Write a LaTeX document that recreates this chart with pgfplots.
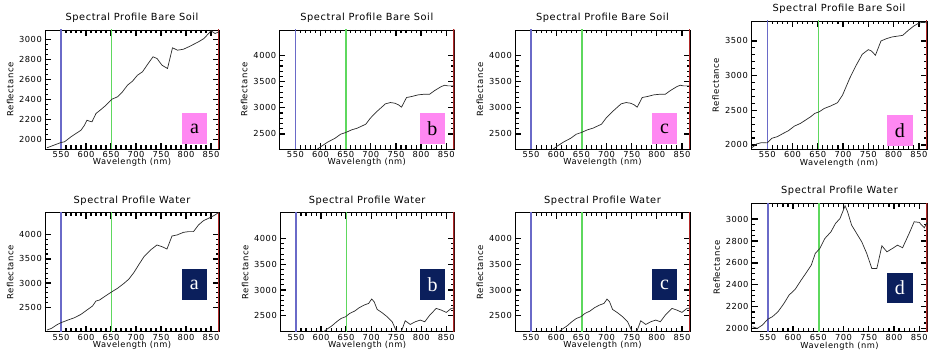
\documentclass[border=0pt]{standalone}
\usepackage{pgfplots}
\pgfplotsset{compat=1.18}
\usepackage{fontspec}
\setmainfont{DejaVu Sans}[LetterSpace=6]
\newfontfamily\serifl{Liberation Serif}
\definecolor{lblue}{HTML}{6A6AC8}
\definecolor{lgreen}{HTML}{5ED85E}
\definecolor{lred}{HTML}{B02828}
\definecolor{lpink}{HTML}{FF88F2}
\definecolor{lnavy}{HTML}{0B1F5C}
\definecolor{curve}{HTML}{2A2A2A}

\pgfplotsset{idl/.style={
  scale only axis, anchor=south west,
  xmin=518, xmax=866,
  xtick={550,600,...,850}, minor x tick num=4,
  tick align=inside, tick pos=both,
  xmajorticks=true, ymajorticks=true,
  major tick length=6pt, minor tick length=3.5pt,
  every major tick/.style={black, line width=1.3pt},
  every minor tick/.style={black, line width=1.1pt},
  axis line style={black, line width=0.8pt},
  /pgf/number format/assume math mode=true,
  /pgf/number format/1000 sep={},
  tick label style={font=\fontsize{8.3}{9}\selectfont},
  xticklabel style={anchor=north, inner sep=0pt, yshift=-2pt},
  yticklabel style={anchor=east, inner sep=0pt, xshift=-3pt},
  title style={font=\fontsize{9.8}{10}\selectfont, at={(axis description cs:0.5,1)}, anchor=base, inner sep=0pt, yshift=3.3pt},
  xlabel={Wavelength (nm)}, ylabel={Reflectance},
  xlabel style={font=\fontsize{8.3}{9}\selectfont, at={(axis description cs:0.5,-0.11)}, anchor=center, inner sep=0pt},
  ylabel style={font=\fontsize{8.5}{9}\selectfont, at={(axis description cs:-0.2,0.5)}, anchor=center, inner sep=0pt},
  clip=true,
}}
\newcommand{\vlines}[2]{%
  \addplot[lblue, line width=1.3pt] coordinates {(550,#1) (550,#2)};
  \addplot[lgreen, line width=1.5pt] coordinates {(651,#1) (651,#2)};
  \addplot[lred, line width=1.6pt] coordinates {(865.3,#1) (865.3,#2)};
}

\pgfplotstableread{
x y
522 1917
550 1970
557 1977
570 2027
590 2093
597 2143
602 2193
607 2183
612 2177
620 2260
630 2300
640 2343
652 2403
663 2427
673 2477
683 2543
693 2583
703 2643
713 2677
722 2743
734 2827
742 2810
752 2743
763 2710
773 2917
783 2893
795 2903
808 2933
825 2977
836 3010
847 3070
850 3087
858 3060
866 3077
}\soilA

\pgfplotstableread{
x y
590 2180
601 2258
614 2341
629 2417
640 2494
650 2526
662 2577
673 2609
690 2685
699 2800
712 2928
729 3075
739 3100
748 3087
755 3056
761 3011
771 3196
781 3215
794 3247
807 3260
817 3260
827 3330
840 3406
847 3432
853 3419
866 3419
}\soilB

\pgfplotstableread{
x y
520 1962
529 2015
539 2034
550 2030
559 2096
570 2120
582 2168
592 2206
604 2273
616 2312
626 2360
636 2407
644 2455
653 2479
663 2527
675 2561
689 2609
699 2719
713 2959
726 3150
738 3308
750 3375
756 3356
764 3294
775 3500
786 3534
797 3558
810 3572
818 3581
829 3653
840 3716
850 3759
857 3768
870 3759
}\soilD

\pgfplotstableread{
x y
522 2032
531 2066
541 2135
550 2183
564 2238
577 2286
590 2355
602 2445
613 2527
620 2630
627 2651
640 2741
652 2823
663 2892
676 2995
686 3085
696 3222
706 3387
716 3546
729 3683
742 3787
752 3752
762 3704
772 3972
782 3993
795 4048
805 4062
815 4062
825 4200
835 4289
848 4351
858 4406
866 4461
}\waterA

\pgfplotstableread{
x y
601 2156
611 2234
621 2299
631 2383
640 2448
649 2481
657 2545
667 2591
676 2656
686 2708
695 2740
701 2825
706 2773
712 2623
722 2558
732 2481
742 2383
748 2253
752 2175
760 2188
768 2403
778 2331
788 2383
798 2416
807 2383
817 2513
830 2643
840 2610
850 2565
860 2643
866 2650
}\waterB

\pgfplotstableread{
x y
520 2015
529 2000
539 2030
550 2085
559 2107
570 2152
582 2229
592 2305
604 2357
616 2442
626 2509
636 2579
644 2686
653 2732
663 2823
675 2884
684 2960
693 3006
703 3122
708 3067
716 2945
726 2869
736 2793
746 2686
756 2549
766 2549
776 2756
786 2701
797 2732
807 2762
817 2738
830 2869
840 2976
850 2970
860 2921
870 3006
}\waterD

\begin{document}
\begin{tikzpicture}
\path[use as bounding box] (0,0) rectangle (930pt,350pt);

% ---------- top row: bare soil ----------
\begin{axis}[idl, at={(45pt,201pt)}, width=174pt, height=119pt,
  title={Spectral Profile Bare Soil},
  ymin=1905, ymax=3095, ytick={2000,2200,...,3000}, minor y tick num=3]
  \vlines{1800}{3200}
  \addplot[curve, line width=0.7pt] table[x=x,y=y] {\soilA};
\end{axis}

\begin{axis}[idl, at={(279.3pt,201pt)}, width=175pt, height=119pt,
  title={Spectral Profile Bare Soil},
  ymin=2210, ymax=4490, ytick={2500,3000,...,4000}, minor y tick num=4]
  \vlines{2100}{4600}
  \addplot[curve, line width=0.7pt] table[x=x,y=y] {\soilB};
\end{axis}

\begin{axis}[idl, at={(515pt,201pt)}, width=175pt, height=119pt,
  title={Spectral Profile Bare Soil},
  ymin=2210, ymax=4490, ytick={2500,3000,...,4000}, minor y tick num=4]
  \vlines{2100}{4600}
  \addplot[curve, line width=0.7pt] table[x=x,y=y] {\soilB};
\end{axis}

\begin{axis}[idl, at={(751pt,201pt)}, width=176pt, height=128pt,
  title={Spectral Profile Bare Soil},
  ymin=1942, ymax=3788, ytick={2000,2500,...,3500}, minor y tick num=4]
  \vlines{1800}{3900}
  \addplot[curve, line width=0.7pt] table[x=x,y=y] {\soilD};
\end{axis}

% ---------- bottom row: water ----------
\begin{axis}[idl, at={(45pt,18.3pt)}, width=174pt, height=119pt,
  title={Spectral Profile Water},
  ymin=1997, ymax=4453, ytick={2500,3000,...,4000}, minor y tick num=4]
  \vlines{1900}{4600}
  \addplot[curve, line width=0.7pt] table[x=x,y=y] {\waterA};
\end{axis}

\begin{axis}[idl, at={(280pt,18.3pt)}, width=174.3pt, height=119pt,
  title={Spectral Profile Water},
  ymin=2190, ymax=4505, ytick={2500,3000,...,4000}, minor y tick num=4]
  \vlines{2100}{4600}
  \addplot[curve, line width=0.7pt] table[x=x,y=y] {\waterB};
\end{axis}

\begin{axis}[idl, at={(515pt,18.3pt)}, width=175pt, height=119pt,
  title={Spectral Profile Water},
  ymin=2190, ymax=4505, ytick={2500,3000,...,4000}, minor y tick num=4]
  \vlines{2100}{4600}
  \addplot[curve, line width=0.7pt] table[x=x,y=y] {\waterB};
\end{axis}

\begin{axis}[idl, at={(751.7pt,18.3pt)}, width=175.6pt, height=128.4pt,
  title={Spectral Profile Water},
  ymin=1970, ymax=3145, ytick={2000,2200,...,3000}, minor y tick num=3]
  \vlines{1900}{3200}
  \addplot[curve, line width=0.7pt] table[x=x,y=y] {\waterD};
\end{axis}

% ---------- letter boxes ----------
\tikzset{pinkbox/.style={fill=lpink, minimum width=25.6pt, minimum height=31pt, inner sep=0pt, font=\serifl\fontsize{20}{22}\selectfont, text=black},
         navybox/.style={fill=lnavy, minimum width=25.4pt, minimum height=30.5pt, inner sep=0pt, font=\serifl\fontsize{20}{22}\selectfont, text=white}}
\node[pinkbox] at (194.5pt,221.2pt) {a};
\node[pinkbox] at (432.3pt,221.3pt) {b};
\node[pinkbox] at (664.5pt,221.3pt) {c};
\node[pinkbox] at (899.8pt,219.7pt) {d};
\node[navybox] at (194.3pt,65.5pt) {a};
\node[navybox] at (432.5pt,65.5pt) {b};
\node[navybox] at (664.5pt,65.5pt) {c};
\node[navybox] at (899.8pt,62.2pt) {d};
\end{tikzpicture}
\end{document}
